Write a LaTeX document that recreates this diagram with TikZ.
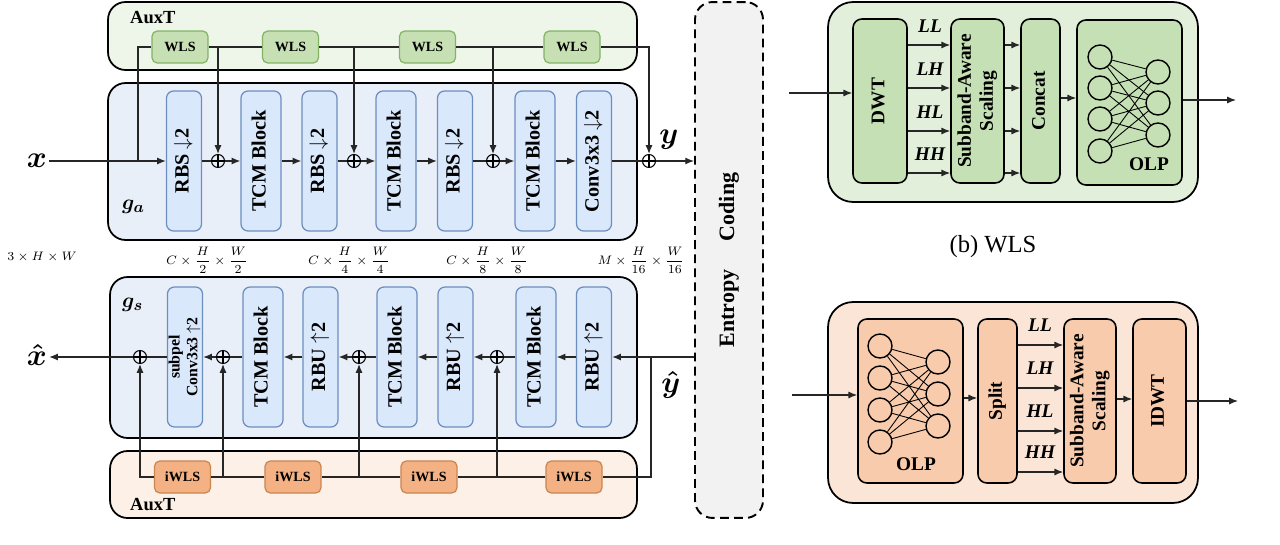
\documentclass[tikz,border=0pt]{standalone}
\usepackage{amsmath,amssymb}
\usepackage{fontspec}
\setmainfont{Liberation Serif}
\usepackage{graphicx}
\usepackage{tikz}
\usetikzlibrary{arrows.meta,calc,positioning}

\definecolor{blkfill}{HTML}{DAE8FC}
\definecolor{blkdraw}{HTML}{6C8EBF}
\definecolor{gafill}{HTML}{E8EFF8}
\definecolor{auxgfill}{HTML}{EEF5E9}
\definecolor{wlsfill}{HTML}{C6E0B4}
\definecolor{wlsdraw}{HTML}{82B366}
\definecolor{auxofill}{HTML}{FDF0E7}
\definecolor{iwlsfill}{HTML}{F4B183}
\definecolor{iwlsdraw}{HTML}{C98650}
\definecolor{entfill}{HTML}{F2F2F2}
\definecolor{pgout}{HTML}{E2EFDA}
\definecolor{pgin}{HTML}{C5E0B4}
\definecolor{poout}{HTML}{FBE5D6}
\definecolor{poin}{HTML}{F8CBAD}

\newcommand{\vlab}[1]{\rotatebox{90}{\begin{tabular}{@{}c@{}}#1\end{tabular}}}

\begin{document}
\begin{tikzpicture}[x=0.02cm, y=-0.02cm,
  wire/.style={line width=0.7pt, draw=black!85},
  arr/.style={wire, -{Latex[length=5pt,width=4pt]}},
  container/.style={draw, line width=1pt, rounded corners=0.35cm, inner sep=0pt},
  blk/.style={draw=blkdraw, fill=blkfill, line width=0.7pt, rounded corners=4pt, minimum height=2.8cm, minimum width=0.7cm, inner sep=0pt, font=\fontsize{11.5}{13}\selectfont\bfseries},
  tcm/.style={blk, minimum width=0.8cm},
  wls/.style={draw=wlsdraw, fill=wlsfill, line width=0.7pt, rounded corners=3pt, minimum width=1.12cm, minimum height=0.64cm, inner sep=0pt, font=\fontsize{8}{9}\selectfont\bfseries},
  iwls/.style={wls, draw=iwlsdraw, fill=iwlsfill},
  sumnode/.style={circle, draw, line width=0.6pt, minimum size=0.26cm, inner sep=0pt,
    path picture={\draw[line width=0.6pt] (path picture bounding box.north) -- (path picture bounding box.south)
      (path picture bounding box.west) -- (path picture bounding box.east);}},
  dimlab/.style={font=\fontsize{7.5}{9}\selectfont},
  symlab/.style={font=\fontsize{17}{18}\selectfont, inner sep=1pt},
  auxlab/.style={anchor=west, font=\fontsize{10.5}{12}\selectfont\bfseries},
  pblk/.style={draw, line width=0.9pt, rounded corners=5pt, minimum height=3.28cm, inner sep=0pt, font=\fontsize{11}{12.5}\selectfont\bfseries},
  neu/.style={circle, draw, line width=0.8pt, minimum size=0.48cm, inner sep=0pt},
  bandlab/.style={font=\fontsize{11}{12}\selectfont\bfseries\itshape}
]
\useasboundingbox (0,0) rectangle (1280,544);

% containers
\node[container, fill=auxgfill, minimum width=10.58cm, minimum height=1.36cm] (auxa) at (372.5,36) {};
\node[container, fill=gafill, minimum width=10.58cm, minimum height=3.14cm] (ga) at (372.5,161.5) {};
\node[container, fill=gafill, minimum width=10.54cm, minimum height=3.22cm] (gs) at (373.5,357.5) {};
\node[container, fill=auxofill, minimum width=10.54cm, minimum height=1.34cm] (auxs) at (373.5,484.5) {};
\node[container, fill=entfill, dash pattern=on 5pt off 3pt, line width=1.1pt, minimum width=1.36cm, minimum height=10.32cm,
  font=\fontsize{12.5}{14}\selectfont\bfseries] (ent) at (729,260) {\rotatebox{90}{Entropy\hspace{1.3em}Coding}};

\node[auxlab] (auxal) at (124,18) {AuxT};
\node[auxlab] (auxsl) at (124,505) {AuxT};
\node[anchor=west, font=\fontsize{13}{14}\selectfont] (gal) at (116,207) {$\boldsymbol{g_a}$};
\node[anchor=west, font=\fontsize{13}{14}\selectfont] (gsl) at (116,305) {$\boldsymbol{g_s}$};

% analysis transform
\node[blk] (rbs1) at (184,161) {\vlab{RBS $\downarrow$2}};
\node[tcm] (tcm1) at (261,161) {\vlab{TCM Block}};
\node[blk] (rbs2) at (319.5,161) {\vlab{RBS $\downarrow$2}};
\node[tcm] (tcm2) at (396,161) {\vlab{TCM Block}};
\node[blk] (rbs3) at (455,161) {\vlab{RBS $\downarrow$2}};
\node[tcm] (tcm3) at (535,161) {\vlab{TCM Block}};
\node[blk] (conv) at (594,161) {\vlab{Conv3x3 $\downarrow$2}};
\foreach \n/\xx in {p1/218,p2/354,p3/493,p4/649}
  \node[sumnode] (\n) at (\xx,161) {};
\foreach \n/\xx in {w1/180,w2/290.5,w3/427.5,w4/572}
  \node[wls] (\n) at (\xx,47) {WLS};

\node[symlab] (xl) at (37,161) {$\boldsymbol{x}$};
\node[symlab] (yl) at (669,140) {$\boldsymbol{y}$};
\coordinate (t0) at (138,161);
\draw[arr] (xl) -- (rbs1);
\draw[wire] (t0) |- (w1);
\draw[wire] (w1) -- (w2);
\draw[wire] (w2) -- (w3);
\draw[wire] (w3) -- (w4);
\draw[arr] (w1.east) -| (p1);
\draw[arr] (w2.east) -| (p2);
\draw[arr] (w3.east) -| (p3);
\draw[arr] (w4.east) -| (p4);
\draw[wire] (rbs1) -- (p1);
\draw[arr] (p1) -- (tcm1);
\draw[arr] (tcm1) -- (rbs2);
\draw[wire] (rbs2) -- (p2);
\draw[arr] (p2) -- (tcm2);
\draw[arr] (tcm2) -- (rbs3);
\draw[wire] (rbs3) -- (p3);
\draw[arr] (p3) -- (tcm3);
\draw[arr] (tcm3) -- (conv);
\draw[wire] (conv) -- (p4);
\draw[arr] (p4) -- (p4 -| ent.west);

% shapes
\node[dimlab] (d0) at (42,257) {$3\times H\times W$};
\node[dimlab] (d1) at (207,260) {$C\times\dfrac{H}{2}\times\dfrac{W}{2}$};
\node[dimlab] (d2) at (349,260) {$C\times\dfrac{H}{4}\times\dfrac{W}{4}$};
\node[dimlab] (d3) at (487,260) {$C\times\dfrac{H}{8}\times\dfrac{W}{8}$};
\node[dimlab] (d4) at (641,260) {$M\times\dfrac{H}{16}\times\dfrac{W}{16}$};

% synthesis transform
\node[blk, font=\fontsize{9}{10}\selectfont\bfseries] (sub) at (185,357) {\vlab{subpel\\Conv3x3 $\uparrow$2}};
\node[tcm] (st1) at (263,357) {\vlab{TCM Block}};
\node[blk] (rbu1) at (320.5,357) {\vlab{RBU $\uparrow$2}};
\node[tcm] (st2) at (397,357) {\vlab{TCM Block}};
\node[blk] (rbu2) at (455.5,357) {\vlab{RBU $\uparrow$2}};
\node[tcm] (st3) at (536,357) {\vlab{TCM Block}};
\node[blk] (rbu3) at (594,357) {\vlab{RBU $\uparrow$2}};
\foreach \n/\xx in {q0/140,q1/223,q2/359,q3/497}
  \node[sumnode] (\n) at (\xx,357) {};
\foreach \n/\xx in {i1/182.5,i2/293,i3/429,i4/574}
  \node[iwls] (\n) at (\xx,477) {iWLS};

\node[symlab] (xh) at (37,355) {$\boldsymbol{\hat{x}}$};
\node[symlab] (yh) at (671,385) {$\boldsymbol{\hat{y}}$};
\coordinate (yb) at (651,357);
\draw[arr] (ent.west |- rbu3) -- (rbu3);
\draw[wire] (yb) |- (i4);
\draw[wire] (i4) -- (i3);
\draw[wire] (i3) -- (i2);
\draw[wire] (i2) -- (i1);
\draw[arr] (i4.west) -| (q3);
\draw[arr] (i3.west) -| (q2);
\draw[arr] (i2.west) -| (q1);
\draw[arr] (i1.west) -| (q0);
\draw[arr] (rbu3) -- (st3);
\draw[wire] (st3) -- (q3);
\draw[arr] (q3) -- (rbu2);
\draw[arr] (rbu2) -- (st2);
\draw[wire] (st2) -- (q2);
\draw[arr] (q2) -- (rbu1);
\draw[arr] (rbu1) -- (st1);
\draw[wire] (st1) -- (q1);
\draw[arr] (q1) -- (sub);
\draw[wire] (sub) -- (q0);
\draw[arr] (q0) -- (q0 -| xh.east);

% (b) WLS
\node[container, fill=pgout, rounded corners=0.5cm, minimum width=7.4cm, minimum height=4.0cm] (wbox) at (1013,102) {};
\node[pblk, fill=pgin, minimum width=1.08cm] (dwt) at (880,101) {\vlab{DWT}};
\node[pblk, fill=pgin, minimum width=1.06cm] (sas) at (977.5,101) {\vlab{Subband-Aware\\Scaling}};
\node[pblk, fill=pgin, minimum width=0.78cm] (cat) at (1040.5,101) {\vlab{Concat}};
\node[pblk, fill=pgin, minimum width=2.1cm, minimum height=3.3cm] (olp) at (1129.5,102.5) {};
\foreach \i/\yy in {1/57,2/88,3/119,4/151}
  \node[neu] (n\i) at (1100,\yy) {};
\foreach \j/\yy in {1/72,2/103,3/135}
  \node[neu] (m\j) at (1158,\yy) {};
\foreach \i in {1,...,4}
  \foreach \j in {1,...,3}
    \draw[line width=0.5pt] (n\i) -- (m\j);
\node[font=\fontsize{11}{12}\selectfont\bfseries] (olpl) at (1149,164) {OLP};
\coordinate (win) at (789,93);
\coordinate (wout) at (1236,100);
\draw[arr] (win) -- (win -| dwt.west);
\foreach \yy/\bb in {45/LL,88/LH,131/HL,173/HH} {
  \draw[arr] (dwt.east |- 0,\yy) -- (sas.west |- 0,\yy);
  \draw[arr] (sas.east |- 0,\yy) -- (cat.west |- 0,\yy);
  \node[bandlab] (wb\bb) at (930,{\yy-19}) {\bb};
}
\draw[arr] (cat.east |- 0,98) -- (olp.west |- 0,98);
\draw[arr] (olp.east |- wout) -- (wout);
\node[font=\fontsize{14}{16}\selectfont] (capb) at (993,247) {(b) WLS};

% iWLS
\node[container, fill=poout, rounded corners=0.5cm, minimum width=7.4cm, minimum height=4.02cm] (ibox) at (1013,402.5) {};
\node[pblk, fill=poin, minimum width=2.1cm] (iolp) at (910.5,401) {};
\node[pblk, fill=poin, minimum width=0.78cm] (split) at (997.5,401) {\vlab{Split}};
\node[pblk, fill=poin, minimum width=1.04cm] (isas) at (1090,401) {\vlab{Subband-Aware\\Scaling}};
\node[pblk, fill=poin, minimum width=1.06cm] (idwt) at (1159.5,401) {\vlab{IDWT}};
\foreach \i/\yy in {1/346,2/378,3/410,4/442}
  \node[neu] (in\i) at (880,\yy) {};
\foreach \j/\yy in {1/362,2/394,3/426}
  \node[neu] (im\j) at (938,\yy) {};
\foreach \i in {1,...,4}
  \foreach \j in {1,...,3}
    \draw[line width=0.5pt] (in\i) -- (im\j);
\node[font=\fontsize{11}{12}\selectfont\bfseries] (iolpl) at (916,464) {OLP};
\coordinate (iin) at (792,395);
\coordinate (iout) at (1238,401);
\draw[arr] (iin) -- (iin -| iolp.west);
\draw[arr] (iolp.east |- 0,398) -- (split.west |- 0,398);
\foreach \yy/\bb in {345/LL,388/LH,431/HL,472/HH} {
  \draw[arr] (split.east |- 0,\yy) -- (isas.west |- 0,\yy);
  \node[bandlab] (ib\bb) at (1040,{\yy-20}) {\bb};
}
\draw[arr] (isas.east |- 0,399) -- (idwt.west |- 0,399);
\draw[arr] (idwt.east |- iout) -- (iout);
\end{tikzpicture}
\end{document}
